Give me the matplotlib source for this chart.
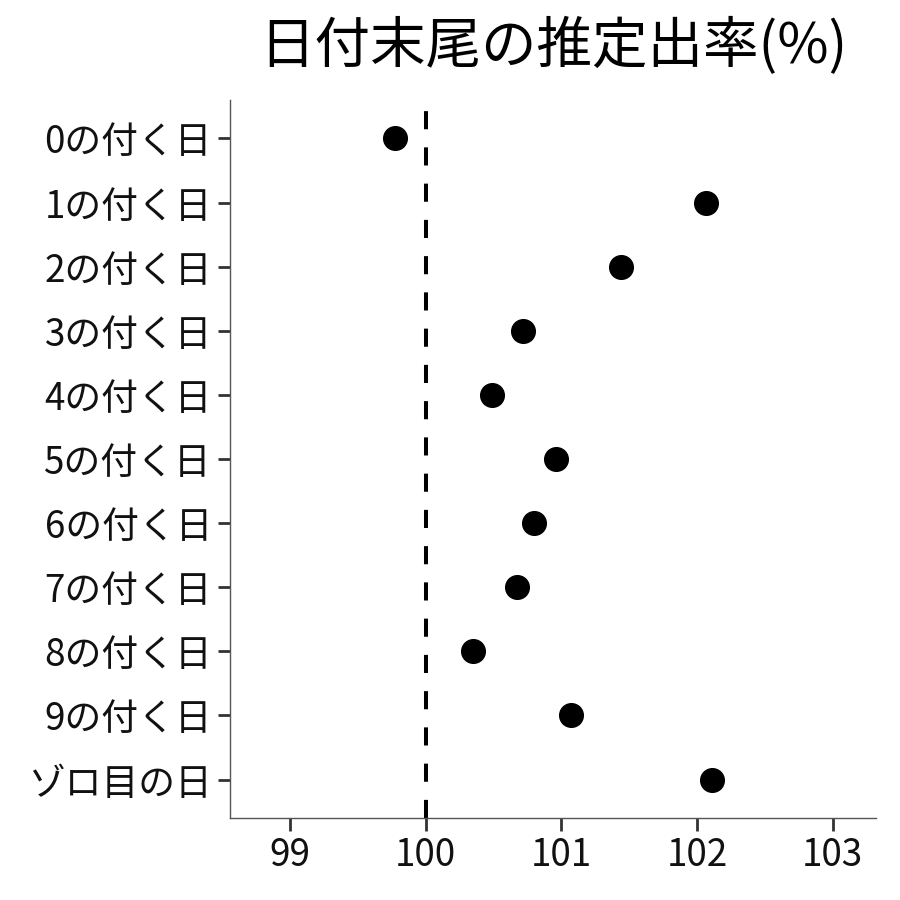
import matplotlib
matplotlib.use('Agg')
import matplotlib.pyplot as plt

plt.rcParams['font.family'] = ['Noto Sans CJK JP', 'DejaVu Sans']

# データ
etiquetas = ['0の付く日', '1の付く日', '2の付く日', '3の付く日', '4の付く日',
             '5の付く日', '6の付く日', '7の付く日', '8の付く日', '9の付く日', 'ゾロ目の日']
valores = [99.77, 102.07, 101.44, 100.72, 100.49, 100.96, 100.80, 100.67, 100.35, 101.07, 102.11]
xticks = [99, 100, 101, 102, 103]

fig = plt.figure(figsize=(9, 9), dpi=100)
ax = fig.add_axes([230/900, 1 - 818/900, (876 - 230)/900, (818 - 100)/900])

pos = list(range(len(etiquetas)))
ax.axvline(100, color='black', linestyle=(0, (4.5, 4.5)), linewidth=2.9, zorder=1)
ax.scatter(valores, pos, s=290, color='black', zorder=2)

ax.set_xlim(98.557, 103.32)
ax.set_ylim(len(etiquetas) - 0.4, -0.6)
ax.set_yticks(pos)
ax.set_yticklabels(etiquetas)
ax.set_xticks(xticks)
ax.set_xticklabels([str(x) for x in xticks])

for s in ['top', 'right']:
    ax.spines[s].set_visible(False)
for s in ['left', 'bottom']:
    ax.spines[s].set_color('#555555')
    ax.spines[s].set_linewidth(1.0)
ax.tick_params(axis='both', labelsize=26.5, length=9, width=2.0, color='#333333',
               labelcolor='#111111', pad=4)

fig.text((230 + 876) / 2 / 900, 1 - 47/900, '日付末尾の推定出率(%)', ha='center', va='center',
         fontsize=40)

fig.savefig('out.png', dpi=100)
